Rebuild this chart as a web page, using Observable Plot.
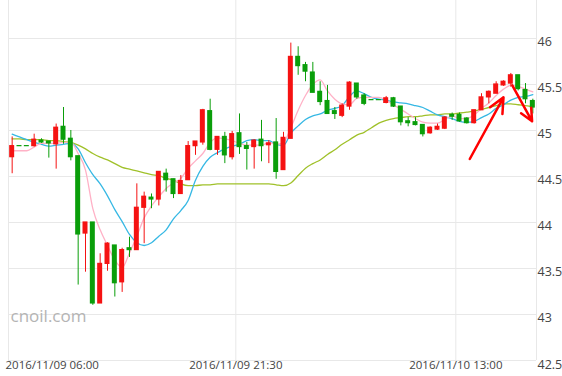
<!DOCTYPE html>
<html><head><meta charset="utf-8">
<script src="https://cdn.jsdelivr.net/npm/d3@7"></script>
<script src="https://cdn.jsdelivr.net/npm/@observablehq/plot@0.6"></script>
<style>
html,body{margin:0;padding:0;background:#fff;}
#chart{width:562px;height:376px;overflow:hidden;}
</style></head><body><div id="chart"></div>
<script>
// 30-minute candles, slot 0 = 2016/11/09 06:00
const opens  = [44.71,44.83,44.83,44.83,44.89,44.88,44.85,45.04,44.91,44.72,43.88,44.00,43.12,43.55,43.75,43.35,43.72,43.70,44.16,44.27,44.25,44.53,44.47,44.31,44.46,44.83,44.87,45.21,44.79,44.93,44.71,44.97,44.83,44.82,44.90,44.84,44.87,44.57,44.91,45.80,45.71,45.63,45.42,45.32,45.21,45.16,45.26,45.51,45.38,45.33,45.33,45.30,45.35,45.26,45.10,45.09,45.06,44.97,45.01,45.02,45.17,45.17,45.13,45.08,45.22,45.36,45.40,45.49,45.51,45.60,45.44,45.32];
const highs  = [44.93,44.83,44.83,44.96,44.91,44.88,45.07,45.25,45.00,44.72,44.00,44.00,43.66,43.78,43.75,43.72,43.84,44.42,44.33,44.31,44.55,44.58,44.47,44.51,44.88,44.88,45.23,45.34,44.93,44.98,44.99,45.18,44.87,44.90,45.11,44.89,45.13,44.98,45.95,45.91,45.74,45.74,45.53,45.49,45.25,45.29,45.53,45.51,45.40,45.33,45.33,45.37,45.36,45.26,45.14,45.14,45.06,45.04,45.07,45.15,45.19,45.19,45.14,45.22,45.40,45.43,45.53,45.54,45.62,45.60,45.51,45.34];
const lows   = [44.53,44.83,44.83,44.82,44.86,44.70,44.58,44.85,44.67,43.32,43.46,43.10,43.12,43.47,43.19,43.24,43.62,43.70,43.77,44.15,44.18,44.33,44.26,44.31,44.46,44.73,44.84,44.78,44.73,44.64,44.68,44.74,44.57,44.58,44.66,44.64,44.47,44.57,44.91,45.60,45.53,45.41,45.27,45.18,45.12,45.14,45.22,45.34,45.27,45.33,45.33,45.29,45.25,45.05,45.04,45.05,44.93,44.96,45.00,45.01,45.11,45.09,45.07,45.07,45.22,45.29,45.40,45.48,45.47,45.43,45.29,45.18];
const closes = [44.83,44.83,44.83,44.90,44.87,44.86,45.03,44.90,44.71,43.87,44.00,43.12,43.55,43.77,43.34,43.70,43.70,44.16,44.28,44.25,44.55,44.46,44.31,44.45,44.83,44.88,45.22,44.79,44.93,44.73,44.96,44.82,44.80,44.89,44.83,44.86,44.55,44.92,45.80,45.70,45.64,45.41,45.31,45.18,45.18,45.27,45.52,45.36,45.29,45.33,45.33,45.35,45.26,45.09,45.08,45.06,44.96,45.03,45.04,45.14,45.15,45.10,45.08,45.22,45.36,45.42,45.50,45.53,45.60,45.45,45.34,45.25];

// moving averages (one value per slot)
const maPink = [44.78,44.78,44.78,44.82,44.86,44.86,44.86,44.87,44.87,44.75,44.57,44.15,43.92,43.75,43.59,43.51,43.67,43.85,44.05,44.18,44.28,44.37,44.43,44.48,44.59,44.67,44.75,44.87,44.92,44.91,44.89,44.86,44.84,44.84,44.84,44.87,44.85,44.87,45.03,45.22,45.38,45.50,45.55,45.43,45.34,45.29,45.28,45.35,45.36,45.36,45.36,45.33,45.28,45.23,45.18,45.13,45.09,45.08,45.08,45.12,45.16,45.13,45.13,45.17,45.24,45.30,45.38,45.45,45.49,45.48,45.45,45.42];
const maCyan = [44.96,44.93,44.90,44.87,44.85,44.83,44.84,44.85,44.86,44.80,44.65,44.52,44.42,44.29,44.14,44.01,43.87,43.78,43.75,43.78,43.85,43.92,44.04,44.13,44.24,44.46,44.61,44.71,44.76,44.80,44.83,44.85,44.89,44.90,44.89,44.89,44.85,44.84,44.97,45.05,45.12,45.16,45.18,45.22,45.24,45.27,45.37,45.43,45.40,45.36,45.34,45.33,45.31,45.30,45.29,45.27,45.25,45.21,45.17,45.15,45.13,45.10,45.09,45.10,45.14,45.18,45.24,45.28,45.33,45.36,45.37,45.39];
const maOlive = [44.91,44.91,44.90,44.90,44.90,44.89,44.89,44.88,44.87,44.84,44.80,44.75,44.71,44.68,44.64,44.60,44.58,44.56,44.54,44.52,44.51,44.48,44.46,44.42,44.40,44.40,44.41,44.41,44.42,44.42,44.42,44.42,44.42,44.42,44.42,44.42,44.41,44.40,44.43,44.51,44.59,44.64,44.68,44.74,44.79,44.85,44.90,44.95,44.98,45.03,45.08,45.11,45.13,45.14,45.15,45.15,45.16,45.17,45.17,45.18,45.18,45.19,45.20,45.21,45.23,45.25,45.27,45.29,45.29,45.28,45.27,45.26];

const xTickSlots = [-0.5, 30.5, 60.5];
const xTickLabels = ["2016/11/09 06:00", "2016/11/09 21:30", "2016/11/10 13:00"];
const xGridSlots = [-0.5, 30.5, 60.5, 71.5];
const yTicks = [42.5, 43, 43.5, 44, 44.5, 45, 45.5, 46];

// red annotation arrows: [slotFrom, priceFrom, slotTo, priceTo]
const arrowSlotFrom  = [62.4, 68.2];
const arrowPriceFrom = [44.69, 45.49];
const arrowSlotTo    = [67.0, 70.9];
const arrowPriceTo   = [45.36, 45.10];

const RED = "#f51212", GREEN = "#0a9e0a";
const candles = opens.map((o, i) => ({
  i, open: o, high: highs[i], low: lows[i], close: closes[i],
  c: closes[i] > o ? RED : GREEN
}));
const maSeries = (arr) => arr.map((v, i) => ({i, v}));
const arrows = arrowSlotFrom.map((s, k) => ({x1: s, y1: arrowPriceFrom[k], x2: arrowSlotTo[k], y2: arrowPriceTo[k]}));

const chart = Plot.plot({
  width: 562, height: 376,
  marginLeft: 8, marginRight: 26, marginTop: 0, marginBottom: 16,
  x: {domain: [-0.5, 71.5], axis: null},
  y: {domain: [42.5, 46.413], axis: null},
  style: {fontFamily: "'Open Sans', sans-serif", background: "#fff"},
  marks: [
    Plot.ruleY(yTicks, {stroke: "#e8e8e8", strokeWidth: 1}),
    Plot.ruleX(xGridSlots, {stroke: "#e8e8e8", strokeWidth: 1}),
    Plot.text(["cnoil.com"], {frameAnchor: "bottom-left", dx: 2, dy: -39, text: d => d, fill: "#b4b4b4", fontSize: 17, textAnchor: "start", lineAnchor: "bottom"}),
    Plot.line(maSeries(maOlive), {x: "i", y: "v", stroke: "#a0c12a", strokeWidth: 1.3, curve: "monotone-x"}),
    Plot.line(maSeries(maCyan), {x: "i", y: "v", stroke: "#36b8e4", strokeWidth: 1.3, curve: "monotone-x"}),
    Plot.line(maSeries(maPink), {x: "i", y: "v", stroke: "#ffb1c6", strokeWidth: 1.3, curve: "monotone-x"}),
    Plot.ruleX(candles, {x: "i", y1: "low", y2: "high", stroke: "c", strokeWidth: 1}),
    Plot.rect(candles, {x1: d => d.i - 0.34, x2: d => d.i + 0.34, y1: "open", y2: "close", fill: "c", insetTop: -0.6, insetBottom: -0.6}),
    Plot.arrow(arrows, {x1: "x1", y1: "y1", x2: "x2", y2: "y2", stroke: "#f00", strokeWidth: 2.5, headLength: 10, headAngle: 50}),
    Plot.text(yTicks, {y: d => d, frameAnchor: "right", dx: 1, dy: 4, text: d => String(d), textAnchor: "start", fill: "#444", fontSize: 12.5}),
    Plot.text([0], {x: xTickSlots[0], frameAnchor: "bottom", dx: -3, dy: 8, text: () => xTickLabels[0], textAnchor: "start", fill: "#444", fontSize: 11.5}),
    Plot.text(xTickSlots.slice(1), {x: d => d, frameAnchor: "bottom", dy: 8, text: (d, k) => xTickLabels[k + 1], textAnchor: "middle", fill: "#444", fontSize: 11.5})
  ]
});
document.getElementById("chart").append(chart);
</script></body></html>
